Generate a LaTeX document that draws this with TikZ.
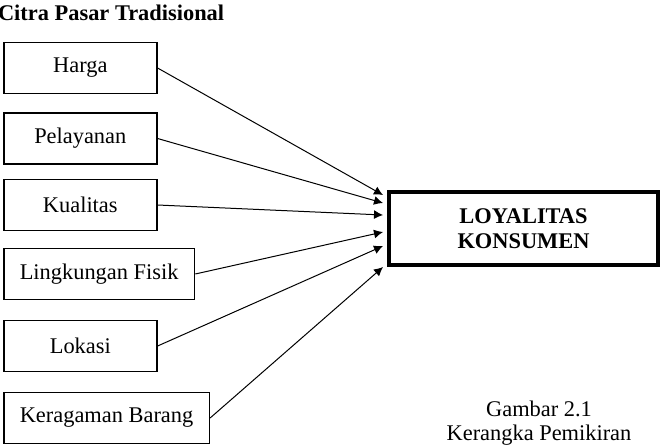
\documentclass[tikz,border=0pt]{standalone}
\usepackage{fontspec}
\setmainfont{Liberation Serif}
\usetikzlibrary{arrows.meta}

\tikzset{
  factor/.style={draw, line width=0.8pt, anchor=west, minimum width=76.5pt, minimum height=25.5pt, inner xsep=8pt},
  link/.style={-{Latex[length=4.5pt,width=4.5pt]}, line width=0.5pt}
}

\begin{document}
\begin{tikzpicture}[x=0.5pt, y=-0.5pt, font=\fontsize{11.2}{12.3}\selectfont]
\useasboundingbox (0,0) rectangle (664,446);

% Title
\node[anchor=base west, font=\fontsize{11.2}{12.3}\selectfont\bfseries] (title) at (-9,20) {Citra Pasar Tradisional};

% Factor boxes
\node[factor] (harga) at (3,68) {Harga};
\node[factor] (pelayanan) at (3,138.5) {Pelayanan};
\node[factor] (kualitas) at (3,205) {Kualitas};
\node[factor] (lingkungan) at (3,274) {Lingkungan Fisik};
\node[factor] (lokasi) at (3,346) {Lokasi};
\node[factor] (ragam) at (3,418) {Keragaman Barang};

% Target box
\node[draw, line width=2pt, minimum width=134.5pt, minimum height=36.5pt, align=center,
      font=\fontsize{11.2}{12.3}\selectfont\bfseries] (loyal) at (523.5,228.5) {LOYALITAS\\KONSUMEN};

% Arrow tips on the target
\coordinate (t1) at (383,195);
\coordinate (t2) at (383,203);
\coordinate (t3) at (383,215);
\coordinate (t4) at (383,232);
\coordinate (t5) at (383,246);
\coordinate (t6) at (383,267);

% Arrows
\draw[link] (harga.east) -- (t1);
\draw[link] (pelayanan.east) -- (t2);
\draw[link] (kualitas.east) -- (t3);
\draw[link] (lingkungan.east) -- (t4);
\draw[link] (lokasi.east) -- (t5);
\draw[link] (ragam.east) -- (t6);

% Caption
\node[anchor=base] (cap1) at (539,416) {Gambar 2.1};
\node[anchor=base] (cap2) at (539,440) {Kerangka Pemikiran};

\end{tikzpicture}
\end{document}
